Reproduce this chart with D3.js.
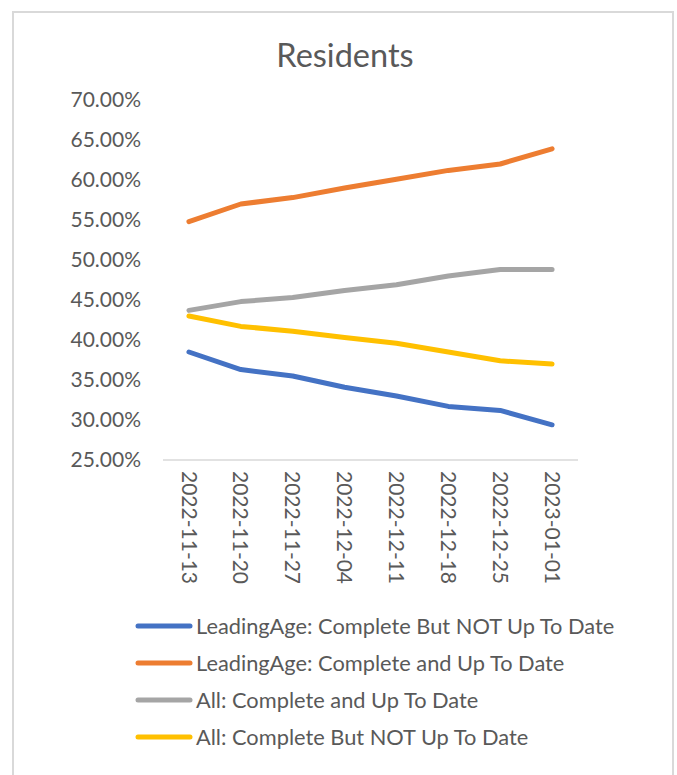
<!DOCTYPE html>
<html>
<head>
<meta charset="utf-8">
<script src="https://cdn.jsdelivr.net/npm/d3@7"></script>
<style>
  body { margin: 0; background: #fff; }
  svg text { font-family: Lato, "Open Sans", sans-serif; fill: #595959; }
</style>
</head>
<body>
<div class="chartCont"></div>
<script>
var w = 677;
var h = 775;

// data
const weeks = ["2022-11-13", "2022-11-20", "2022-11-27", "2022-12-04",
               "2022-12-11", "2022-12-18", "2022-12-25", "2023-01-01"];
const seriesNames = ["LeadingAge: Complete But NOT Up To Date",
                     "LeadingAge: Complete and Up To Date",
                     "All: Complete and Up To Date",
                     "All: Complete But NOT Up To Date"];
const leadingNotUpToDate = [38.5, 36.3, 35.5, 34.1, 33.0, 31.7, 31.2, 29.4];
const leadingUpToDate    = [54.8, 57.0, 57.8, 59.0, 60.1, 61.2, 62.0, 63.9];
const allUpToDate        = [43.7, 44.8, 45.3, 46.2, 46.9, 48.0, 48.8, 48.8];
const allNotUpToDate     = [43.0, 41.7, 41.1, 40.3, 39.6, 38.5, 37.4, 37.0];
const yTicks = [25, 30, 35, 40, 45, 50, 55, 60, 65, 70];

const colors = ["#4472C4", "#ED7D31", "#A5A5A5", "#FFC000"];
const allSeries = [leadingNotUpToDate, leadingUpToDate, allUpToDate, allNotUpToDate];

var svg = d3.select(".chartCont").append("svg")
    .attr("width", w)
    .attr("height", h);

// outer chart frame
svg.append("rect")
    .attr("x", 13).attr("y", 12)
    .attr("width", 660).attr("height", 790)
    .attr("fill", "none")
    .attr("stroke", "#d9d9d9")
    .attr("stroke-width", 2);

svg.append("text")
    .attr("x", 345).attr("y", 67)
    .attr("text-anchor", "middle")
    .style("font-size", "32.5px")
    .text("Residents");

const x = d3.scaleBand()
    .domain(weeks)
    .range([163, 578]);

const y = d3.scaleLinear()
    .domain([25, 70])
    .range([460, 100]);

// y labels (no axis line in the original)
svg.selectAll(".ylab")
    .data(yTicks)
    .enter()
    .append("text")
    .attr("class", "ylab")
    .attr("x", 141)
    .attr("y", d => y(d))
    .attr("dy", "0.35em")
    .attr("text-anchor", "end")
    .style("font-size", "21px")
    .text(d => d.toFixed(2) + "%");

// category axis
svg.append("line")
    .attr("x1", 163).attr("x2", 578)
    .attr("y1", y(25)).attr("y2", y(25))
    .attr("stroke", "#d9d9d9")
    .attr("stroke-width", 1.5);

svg.selectAll(".xlab")
    .data(weeks)
    .enter()
    .append("text")
    .attr("class", "xlab")
    .attr("transform", d => "translate(" + (x(d) + x.bandwidth() / 2) + "," + 471 + ") rotate(90)")
    .attr("dy", "0.35em")
    .style("font-size", "21px")
    .text(d => d);

const line = d3.line()
    .x((d, i) => x(weeks[i]) + x.bandwidth() / 2)
    .y(d => y(d));

svg.selectAll(".series")
    .data(allSeries)
    .enter()
    .append("path")
    .attr("class", "series")
    .attr("d", d => line(d))
    .attr("fill", "none")
    .attr("stroke", (d, i) => colors[i])
    .attr("stroke-width", 5)
    .attr("stroke-linecap", "round")
    .attr("stroke-linejoin", "round");

// legend
const leg = svg.selectAll(".leg")
    .data(seriesNames)
    .enter()
    .append("g")
    .attr("class", "leg")
    .attr("transform", (d, i) => "translate(0," + (626 + i * 37) + ")");

leg.append("line")
    .attr("x1", 138).attr("x2", 190)
    .attr("y1", 0).attr("y2", 0)
    .attr("stroke", (d, i) => colors[i])
    .attr("stroke-width", 5)
    .attr("stroke-linecap", "round");

leg.append("text")
    .attr("x", 196)
    .attr("dy", "0.35em")
    .style("font-size", "21.8px")
    .text(d => d);
</script>
</body>
</html>
